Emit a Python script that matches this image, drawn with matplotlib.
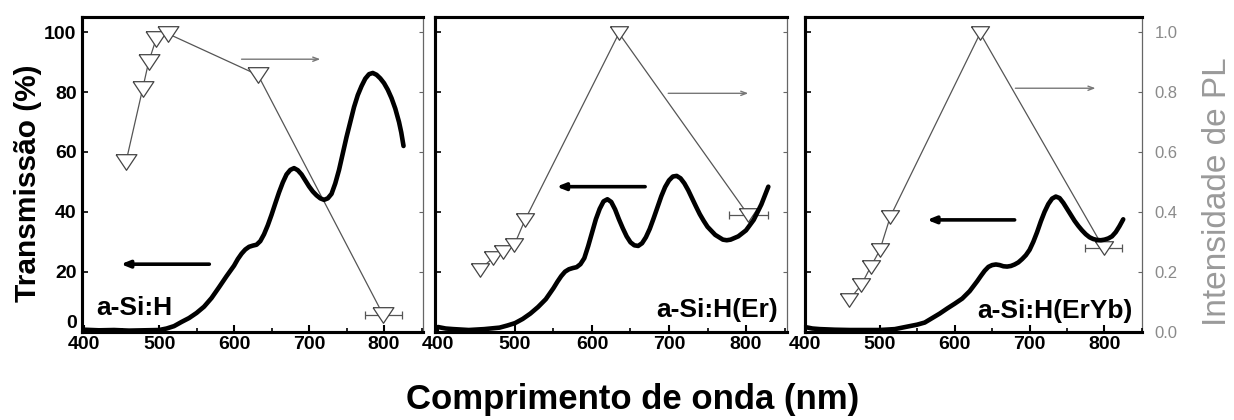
import matplotlib
matplotlib.use('Agg')
import matplotlib.pyplot as plt

plt.rcParams['font.family'] = ['Liberation Sans', 'DejaVu Sans']

# transmission curves (left axis, %)
WL_1 = [400, 420, 440, 460, 480, 500, 510, 520, 530, 540, 550, 560, 570, 580, 590,
        600, 605, 610, 615, 620, 625, 630, 635, 640, 645, 650, 655, 660, 665, 670,
        675, 680, 685, 690, 695, 700, 705, 710, 715, 720, 725, 730, 735, 740, 745,
        750, 755, 760, 765, 770, 775, 780, 785, 790, 795, 800, 805, 810, 815, 820,
        823, 826]
TR_1 = [0.6, 0.4, 0.5, 0.3, 0.4, 0.5, 1.0, 1.8, 3.2, 4.5, 6.2, 8.3, 11.2, 14.8, 18.5,
        22.0, 24.2, 26.0, 27.4, 28.3, 28.7, 29.0, 30.2, 32.5, 35.5, 39.0, 42.8, 46.5, 49.8, 52.5,
        54.0, 54.6, 53.9, 52.5, 50.5, 48.5, 46.8, 45.5, 44.5, 44.0, 44.5, 46.0, 49.5, 54.0, 59.5,
        65.0, 70.0, 75.0, 79.0, 82.0, 84.5, 86.0, 86.4, 85.8, 84.6, 83.0, 80.8, 78.0, 74.5, 70.0,
        66.5, 62.0]

WL_2 = [400, 410, 420, 440, 460, 480, 490, 500, 510, 520, 530, 540, 550, 555, 560,
        565, 570, 575, 580, 585, 590, 595, 600, 605, 610, 615, 620, 625, 630, 635,
        640, 645, 650, 655, 660, 665, 670, 675, 680, 685, 690, 695, 700, 705, 710,
        715, 720, 725, 730, 735, 740, 745, 750, 760, 770, 775, 780, 790, 800, 810,
        820, 829]
TR_2 = [1.5, 1.0, 0.8, 0.5, 0.8, 1.3, 2.0, 2.8, 4.2, 6.0, 8.2, 10.8, 14.5, 16.6, 18.5,
        20.0, 20.8, 21.2, 21.5, 22.5, 24.5, 28.5, 33.0, 37.5, 41.0, 43.5, 44.2, 43.3, 40.8, 37.5,
        34.5, 31.8, 29.8, 28.8, 28.6, 29.5, 31.5, 34.3, 37.8, 41.5, 45.2, 48.3, 50.5, 51.8, 52.0,
        51.2, 49.5, 47.2, 44.5, 41.8, 39.2, 37.0, 35.0, 32.3, 30.7, 30.5, 30.7, 31.8, 33.8, 37.3,
        42.5, 48.4]

WL_3 = [400, 410, 420, 440, 460, 480, 500, 520, 530, 540, 550, 560, 570, 580, 590,
        600, 610, 620, 630, 635, 640, 645, 650, 655, 660, 665, 670, 675, 680, 685,
        690, 695, 700, 705, 710, 715, 720, 725, 730, 735, 740, 745, 750, 755, 760,
        765, 770, 775, 780, 785, 790, 795, 800, 805, 810, 815, 820, 825]
TR_3 = [1.5, 1.0, 0.8, 0.6, 0.5, 0.5, 0.5, 0.8, 1.3, 1.8, 2.3, 3.0, 4.5, 6.0, 7.7,
        9.3, 11.0, 13.5, 16.8, 18.6, 20.3, 21.6, 22.2, 22.4, 22.2, 21.8, 21.7, 21.9, 22.4, 23.1,
        24.2, 25.5, 27.3, 30.0, 33.2, 36.8, 40.0, 42.6, 44.4, 45.1, 44.6, 43.0, 41.0, 39.0, 37.0,
        35.3, 33.8, 32.5, 31.5, 30.9, 30.6, 30.5, 30.7, 31.1, 31.8, 33.2, 35.2, 37.5]

# PL intensity (right axis, normalised)
PL_WL_1 = [456, 478, 486, 496, 512, 632, 799]
PL_1 = [0.568, 0.81, 0.90, 0.977, 0.995, 0.857, 0.055]
PL_WL_2 = [454, 471, 485, 499, 513, 635, 803]
PL_2 = [0.206, 0.245, 0.267, 0.289, 0.373, 0.997, 0.389]
PL_WL_3 = [459, 475, 488, 500, 514, 634, 799]
PL_3 = [0.105, 0.155, 0.217, 0.272, 0.384, 0.997, 0.278]
PL_XERR = [0, 0, 0, 0, 0, 0, 25]

SAMPLES = ['a-Si:H', 'a-Si:H(Er)', 'a-Si:H(ErYb)']

fig = plt.figure(figsize=(12.34, 4.2), dpi=100)

# axes boxes [left, bottom, width, height] and x limits per panel
boxes = [[0.0665, 0.2107, 0.2763, 0.7495],
         [0.3525, 0.2107, 0.2853, 0.7495],
         [0.6523, 0.2107, 0.2731, 0.7495]]
xlims = [(397.3, 852), (396.1, 853.3), (400.4, 850)]

curves = [(WL_1, TR_1), (WL_2, TR_2), (WL_3, TR_3)]
pls = [(PL_WL_1, PL_1), (PL_WL_2, PL_2), (PL_WL_3, PL_3)]
msizes = [15, 13, 13]

# arrows: (tail x, head x, y) for left (transmission) and right (PL) arrows
left_arrows = [(567, 449, 22.5), (669, 554, 48.4), (680, 563, 37.3)]
right_arrows = [(610, 715, 0.91), (699, 803, 0.796), (681, 788, 0.813)]

label_pos = [(0.043, 0.052, 'left'), (0.974, 0.046, 'right'), (0.973, 0.043, 'right')]

tri = [(-1, 0.75), (1, 0.75), (0, -0.75), (-1, 0.75)]

for i in range(3):
    ax = fig.add_axes(boxes[i])
    ax2 = ax.twinx()
    ax.set_zorder(ax2.get_zorder() + 1)
    ax.patch.set_visible(False)

    wl, tr = curves[i]
    ax.plot(wl, tr, color='black', lw=3.3, solid_capstyle='round',
            solid_joinstyle='round', zorder=5)

    pwl, pl = pls[i]
    ax2.plot(pwl, pl, color='#555555', lw=0.9, zorder=2)
    ax2.errorbar(pwl, pl, xerr=PL_XERR, fmt='none', ecolor='#555555',
                 elinewidth=0.9, capsize=3, capthick=0.9, zorder=3)
    ax2.plot(pwl, pl, linestyle='none', marker=tri, markersize=msizes[i],
             markerfacecolor='white', markeredgecolor='#444444', markeredgewidth=0.9,
             zorder=4)

    x0, x1, y = left_arrows[i]
    ax.annotate('', xy=(x1, y), xytext=(x0, y),
                arrowprops=dict(arrowstyle='-|>,head_length=0.5,head_width=0.2',
                                color='black', lw=2.6, shrinkA=0, shrinkB=0))
    x0, x1, y = right_arrows[i]
    ax2.annotate('', xy=(x1, y), xytext=(x0, y),
                 arrowprops=dict(arrowstyle='->,head_length=0.4,head_width=0.15',
                                 color='#777777', lw=1.0, shrinkA=0, shrinkB=0))

    lx, ly, ha = label_pos[i]
    ax.text(lx, ly, SAMPLES[i], transform=ax.transAxes, ha=ha, va='baseline',
            fontsize=19, fontweight='bold')

    ax.set_xlim(*xlims[i])
    ax.set_ylim(0, 105.2)
    ax2.set_ylim(0, 1.052)

    ax.set_xticks([400, 500, 600, 700, 800])
    ax.set_xticks([450, 550, 650, 750, 850], minor=True)
    ax.set_yticks([0, 20, 40, 60, 80, 100])
    ax2.set_yticks([0, 0.2, 0.4, 0.6, 0.8, 1.0])

    ax.tick_params(axis='x', which='major', direction='in', length=5, width=1.5,
                   labelsize=14, pad=3, top=False)
    ax.tick_params(axis='x', which='minor', direction='in', length=3, width=1.2, top=False)
    ax.tick_params(axis='y', direction='in', length=4, width=1.2, labelsize=14, pad=4)
    ax2.tick_params(axis='y', direction='in', length=3, width=0.8, color='#666666',
                    labelsize=12, labelcolor='#8a8a8a', pad=9)
    for lab in ax.get_xticklabels() + ax.get_yticklabels():
        lab.set_fontweight('bold')

    if i > 0:
        ax.set_yticklabels([])
    else:
        # the "0" sits just above the "400" as in the original
        ax.get_yticklabels()[0].set_va('bottom')
    if i < 2:
        ax2.set_yticklabels([])

    for name in ['left', 'bottom', 'top']:
        ax.spines[name].set_linewidth(2.2)
        ax2.spines[name].set_linewidth(2.2)
    ax.spines['right'].set_visible(False)
    ax2.spines['right'].set_linewidth(0.9)
    ax2.spines['right'].set_color('#666666')

fig.text(0.023, 0.564, 'Transmissão (%)', rotation=90, ha='center', va='center',
         fontsize=21.5, fontweight='bold')
fig.text(0.513, 0.048, 'Comprimento de onda (nm)', ha='center', va='center',
         fontsize=25, fontweight='bold')
fig.text(0.987, 0.543, 'Intensidade de PL', rotation=90, ha='center', va='center',
         fontsize=24, color='#9a9a9a', fontweight='light')

fig.savefig('out.png', dpi=100)
